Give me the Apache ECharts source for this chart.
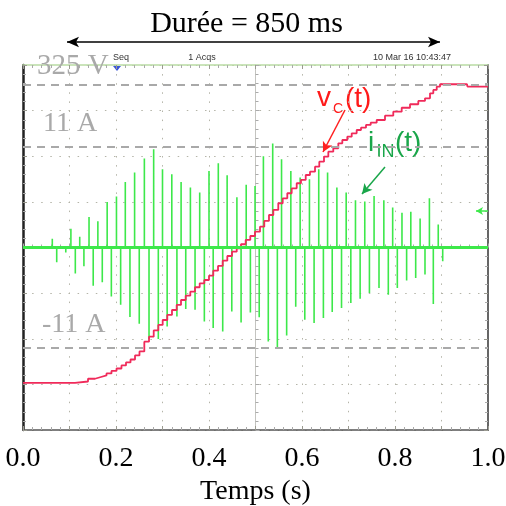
<!DOCTYPE html>
<html><head><meta charset="utf-8">
<script src="https://cdn.jsdelivr.net/npm/echarts@6/dist/echarts.min.js"></script>
<style>html,body{margin:0;padding:0;background:#fff}#c{width:506px;height:506px}</style>
</head><body><div id="c"></div>
<script>
// ---- data ----
const xLabels = ['0.0','0.2','0.4','0.6','0.8','1.0'];
// positive current pulses i_IN (time s, amplitude A)
const posT = [0.063,0.103,0.122,0.142,0.161,0.181,0.201,0.220,0.240,0.261,0.281,0.300,0.320,0.340,0.360,0.380,0.400,0.420,0.439,0.460,0.480,0.499,0.517,0.537,0.556,0.576,0.596,0.616,0.636,0.655,0.675,0.695,0.715,0.735,0.755,0.776,0.795,0.815,0.834,0.854,0.874,0.893];
const posI = [0.96,2.06,1.18,3.33,2.89,4.98,5.58,7.18,8.22,9.76,10.78,8.58,8.03,7.18,6.57,6.02,8.39,9.22,7.92,5.5,6.88,6.74,9.99,11.41,9.68,8.39,7.67,7.48,8.58,8.22,6.57,6.02,5.17,5.03,5.64,5.17,4.37,3.82,3.93,3.19,5.39,2.53];
// negative current pulses
const negT = [0.0725,0.092,0.1125,0.131,0.151,0.1705,0.190,0.210,0.230,0.250,0.271,0.291,0.310,0.331,0.350,0.370,0.390,0.409,0.4295,0.449,0.469,0.489,0.508,0.5275,0.547,0.567,0.5865,0.606,0.626,0.646,0.665,0.685,0.705,0.725,0.745,0.7656,0.7856,0.805,0.825,0.8445,0.8645,0.8824,0.9026];
const negI = [-1.62,-0.55,-2.86,-2.06,-4.18,-3.82,-5.36,-6.27,-7.62,-8.36,-10.04,-10.04,-8.66,-7.56,-6.74,-6.82,-8.11,-8.83,-9.21,-7.01,-8.22,-7.12,-7.65,-10.31,-10.97,-9.65,-6.5,-7.92,-8.28,-7.73,-7.07,-6.63,-6.08,-5.61,-4.98,-4.43,-5.17,-4.43,-3.63,-3.33,-2.97,-6.19,-1.51];
// capacitor voltage v_C (time s, volts), staircase corners
const vcT = [0,0.1118,0.1398,0.1548,0.1677,0.1796,0.1903,0.2011,0.2118,0.2215,0.2312,0.2409,0.2505,0.2609,0.2710,0.2811,0.2910,0.3004,0.3103,0.3204,0.3305,0.3398,0.3499,0.3598,0.3699,0.3800,0.3899,0.4000,0.4092,0.4194,0.4295,0.4394,0.4495,0.4596,0.4688,0.4789,0.4888,0.4989,0.5097,0.5189,0.5290,0.5383,0.5490,0.5585,0.5684,0.5778,0.5886,0.5978,0.6080,0.6172,0.6280,0.6372,0.6473,0.6566,0.6673,0.6781,0.6867,0.6974,0.7069,0.7176,0.7269,0.7376,0.7477,0.7606,0.7785,0.7963,0.8144,0.8323,0.8501,0.8645,0.8753,0.8824,0.8897,0.8968,0.9548,0.9559,1.0];
const vcV = [0,1.6,4.6,6.5,8.2,10.4,13.1,15.8,19.1,22.4,25.6,30.0,34.4,45.0,50.5,57.3,63.3,68.7,74.2,79.6,85.1,90.5,95.2,99.6,104.4,108.7,112.3,117.0,122.5,127.6,133.4,138.5,143.2,146.9,151.3,156.0,160.3,165.0,170.5,176.7,183.2,188.7,196.0,201.4,206.9,212.3,217.8,221.4,226.8,230.4,235.9,241.4,246.8,252.3,256.0,261.4,265.0,268.6,272.3,275.9,278.4,281.4,283.9,286.8,291.5,295.9,300.2,304.0,307.6,310.5,315.9,319.6,323.2,325.8,325.8,323.2,323.2];
const refCurrent = [11, -11];
const refVoltage = 325;

// ---- build series data from arrays ----
const pulses = [];
posT.forEach((t,i)=>pulses.push([t,posI[i]]));
negT.forEach((t,i)=>pulses.push([t,negI[i]]));
pulses.sort((a,b)=>a[0]-b[0]);
const iData = [[0,0]];
pulses.forEach(p=>{ iData.push([p[0],0]); iData.push([p[0],p[1]]); iData.push([p[0],0]); });
iData.push([1,0]);
const vData = vcT.map((t,i)=>[t,vcV[i]]);

const SERIF = '"Liberation Serif","Times New Roman",serif';
const SANS = '"Liberation Sans",Arial,sans-serif';
const GRAY = '#a9a9a9';
const dotLine = {show:true, lineStyle:{color:'#b4b4a8', width:1, type:[1.5,7.6]}};
const tick = {show:true, inside:true, length:4, lineStyle:{color:'#9a9a90'}};
const minor = {show:true, splitNumber:5, length:3, lineStyle:{color:'#aaa'}};

const chart = echarts.init(document.getElementById('c'));
chart.setOption({
  animation:false,
  backgroundColor:'#fff',
  grid:{left:23, right:18, top:65, bottom:76, show:false, containLabel:false, outerBoundsMode:'none'},
  xAxis:[
    {type:'value', min:0, max:1, interval:0.1, position:'bottom',
     axisLine:{onZero:false, lineStyle:{color:'#555', width:1.5}},
     axisTick:tick, minorTick:minor, splitLine:dotLine,
     axisLabel:{margin:15, fontFamily:SERIF, fontSize:28, color:'#000',
       formatter:v=>{const k=Math.round(v*10); return k%2===0 ? xLabels[k/2] : '';}},
     name:'Temps (s)', nameLocation:'middle', nameGap:43,
     nameTextStyle:{fontFamily:SERIF, fontSize:28, color:'#000'}},
    {type:'value', min:0, max:1, interval:0.1, position:'top',
     axisLine:{onZero:false, lineStyle:{color:'#b9dca4', width:1.5}},
     axisTick:tick, minorTick:minor, axisLabel:{show:false}, splitLine:{show:false}},
    {type:'value', min:0, max:1, interval:0.1, position:'bottom', offset:-182.5,
     axisLine:{onZero:false, show:false},
     axisTick:{show:true, inside:true, length:4, lineStyle:{color:'#aaa'}}, minorTick:minor,
     axisLabel:{show:false}, splitLine:{show:false}}
  ],
  yAxis:[
    {type:'value', min:-20, max:20, interval:5, position:'left',
     axisLine:{onZero:false, lineStyle:{color:'#222', width:2.5}},
     axisTick:tick, minorTick:minor, splitLine:dotLine, axisLabel:{show:false}},
    {type:'value', min:-20, max:20, interval:5, position:'right',
     axisLine:{onZero:false, lineStyle:{color:'#666', width:2}},
     axisTick:tick, minorTick:minor, splitLine:{show:false}, axisLabel:{show:false}},
    {type:'value', min:-20, max:20, interval:5, position:'left', offset:-232.5,
     axisLine:{onZero:false, lineStyle:{color:'#c4c4c0', width:1}},
     axisTick:{show:true, inside:true, length:4, lineStyle:{color:'#aaa'}}, minorTick:minor,
     splitLine:{show:false}, axisLabel:{show:false}},
    {type:'value', min:-51.3, max:346.8, show:false}
  ],
  series:[
    {type:'line', name:'iIN', xAxisIndex:0, yAxisIndex:0, data:iData, showSymbol:false, symbol:'none',
     clip:false, z:3,
     lineStyle:{color:'#3de84a', width:1.6},
     markLine:{silent:true, symbol:'none', animation:false,
       data:[
         {yAxis:0, lineStyle:{color:'#3de84a', width:3, type:'solid'}, label:{show:false}},
         {yAxis:refCurrent[0], lineStyle:{color:GRAY, width:2, type:[8,6]},
          label:{show:true, position:'insideStartTop', distance:[20,9], formatter:refCurrent[0]+' A',
                 fontFamily:SERIF, fontSize:28, color:GRAY}},
         {yAxis:refCurrent[1], lineStyle:{color:GRAY, width:2, type:[8,6]},
          label:{show:true, position:'insideStartTop', distance:[19,9], formatter:refCurrent[1]+' A',
                 fontFamily:SERIF, fontSize:28, color:GRAY}},
         [{x:385, y:167, symbol:'none', lineStyle:{color:'#1aa64a', width:1.5, type:'solid'}, label:{show:false}},
          {x:362, y:194, symbol:'arrow', symbolSize:[8,10]}],
         [{x:488, y:211, symbol:'none', lineStyle:{color:'#3de84a', width:1.5, type:'solid'}, label:{show:false}},
          {x:476, y:211, symbol:'arrow', symbolSize:[6,7]}]
       ]}},
    {type:'line', name:'vC', xAxisIndex:0, yAxisIndex:3, data:vData, step:'end', showSymbol:false, symbol:'none',
     clip:false, z:4,
     lineStyle:{color:'#f02a5a', width:1.8},
     markLine:{silent:true, symbol:'none', animation:false,
       data:[
         {yAxis:refVoltage, lineStyle:{color:GRAY, width:2, type:[8,6]},
          label:{show:true, position:'insideStartTop', distance:[14,4], formatter:refVoltage+' V',
                 fontFamily:SERIF, fontSize:29, color:GRAY}},
         [{x:345, y:110, symbol:'none', lineStyle:{color:'#ff2020', width:1.5, type:'solid'}, label:{show:false}},
          {x:323, y:152, symbol:'arrow', symbolSize:[8,10]}],
         [{x:67, y:42, symbol:'arrow', symbolSize:[8,12], lineStyle:{color:'#000', width:1.5, type:'solid'}, label:{show:false}},
          {x:440, y:42, symbol:'arrow', symbolSize:[8,12]}]
       ]}}
  ],
  graphic:[
    {type:'text', x:246.5, y:24, style:{text:'Durée = 850 ms', font:'30px '+SERIF, fill:'#000', textAlign:'center', textVerticalAlign:'middle'}},
    {type:'text', x:113, y:58, style:{text:'Seq', font:'9px '+SANS, fill:'#333', textAlign:'left', textVerticalAlign:'middle'}},
    {type:'text', x:202, y:58, style:{text:'1 Acqs', font:'9px '+SANS, fill:'#333', textAlign:'center', textVerticalAlign:'middle'}},
    {type:'text', x:373, y:58, style:{text:'10 Mar 16 10:43:47', font:'9px '+SANS, fill:'#333', textAlign:'left', textVerticalAlign:'middle'}},
    {type:'polygon', shape:{points:[[113,66],[121,66],[117,71]]}, style:{fill:'#3a55d8'}},
    {type:'text', x:317, y:98, style:{text:'v', font:'28px '+SANS, fill:'#ff1a1a', textAlign:'left', textVerticalAlign:'middle'}},
    {type:'text', x:333, y:109, style:{text:'C', font:'14px '+SANS, fill:'#ff1a1a', textAlign:'left', textVerticalAlign:'middle'}},
    {type:'text', x:345, y:99, style:{text:'(t)', font:'28px '+SANS, fill:'#ff1a1a', textAlign:'left', textVerticalAlign:'middle'}},
    {type:'text', x:368, y:143, style:{text:'i', font:'28px '+SANS, fill:'#1aa64a', textAlign:'left', textVerticalAlign:'middle'}},
    {type:'text', x:376.5, y:152.5, style:{text:'IN', font:'18px '+SANS, fill:'#1aa64a', textAlign:'left', textVerticalAlign:'middle'}},
    {type:'text', x:395, y:143.5, style:{text:'(t)', font:'28px '+SANS, fill:'#1aa64a', textAlign:'left', textVerticalAlign:'middle'}}
  ]
});
</script></body></html>
